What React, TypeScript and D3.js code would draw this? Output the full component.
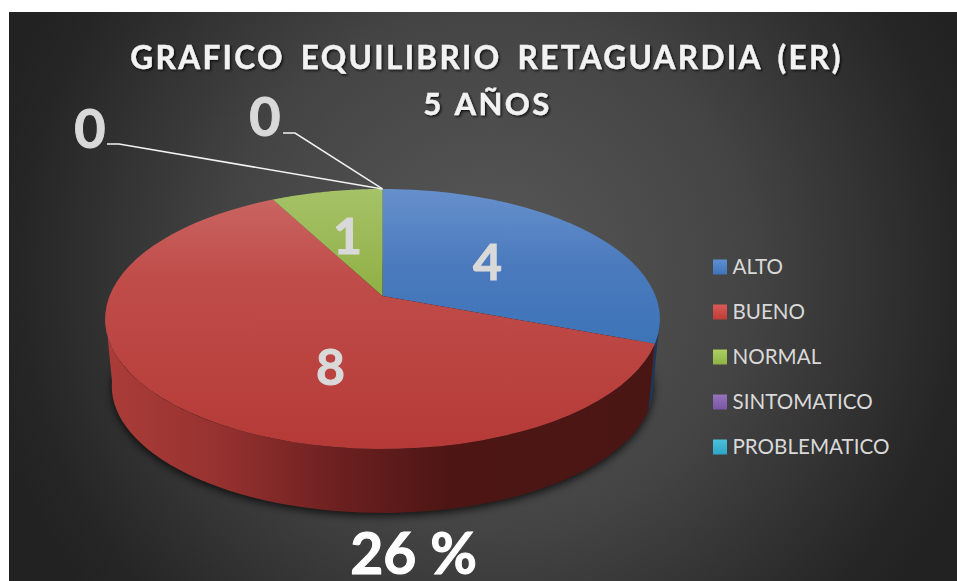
import React from "react";
import * as d3 from "d3";

const categories = ["ALTO", "BUENO", "NORMAL", "SINTOMATICO", "PROBLEMATICO"];
const values = [4, 8, 1, 0, 0];
const swatchTop = ["#5f8fd2", "#d85a56", "#acd062", "#9673bd", "#4cc0dc"];
const swatchBottom = ["#3f73b8", "#bf3c38", "#8fb245", "#7a55a5", "#2ea5c6"];
const titleLines = ["GRAFICO  EQUILIBRIO  RETAGUARDIA  (ER)", "5  AÑOS"];
const footer = "26 %";

const W = 957, H = 581;
const FONT = "Lato, Carlito, 'Open Sans', sans-serif";

// Perspective projection of the pie disc
const CX = 382.5, R = 273, Y0 = 296, A = 73.6, C = -0.1769;
const project = (angle: number, r = 1): [number, number] => {
  const u = Math.sin(angle) * r, v = -Math.cos(angle) * r;
  const d = 1 + C * v;
  return [CX + (R * u) / d, (A * v + Y0) / d];
};
// Bottom rim: slightly smaller, pushed down
const projectBase = (angle: number): [number, number] => {
  const [x, y] = project(angle);
  return [CX + (x - CX) * 0.976, 319 + (y - 319) * 0.976 + 67];
};
const sample = (a0: number, a1: number) =>
  d3.range(0, 61).map((i) => a0 + ((a1 - a0) * i) / 60);
const line = d3.line();

const pie = d3.pie<number>().sort(null).startAngle(0).endAngle(2 * Math.PI);
const arcs = pie(values);

const VIS0 = (100 * Math.PI) / 180, VIS1 = (262 * Math.PI) / 180;

const legendY = d3.scalePoint<string>().domain(categories).range([266.5, 446.5]);

export default function App() {
  const faces = arcs
    .filter((a) => a.value > 0)
    .map((a) => ({
      i: arcs.indexOf(a),
      d:
        line([[CX, Y0], ...sample(a.startAngle, a.endAngle).map((t) => project(t))]) + "Z",
    }));

  const walls = arcs
    .filter((a) => a.value > 0)
    .map((a) => {
      const s = Math.max(a.startAngle, VIS0), e = Math.min(a.endAngle, VIS1);
      if (e <= s) return null;
      const ts = sample(s, e);
      const pts = [...ts.map((t) => project(t)), ...ts.slice().reverse().map((t) => projectBase(t))];
      return { i: arcs.indexOf(a), d: line(pts as [number, number][]) + "Z" };
    })
    .filter(Boolean) as { i: number; d: string }[];

  const baseOutline = line(sample(0, 2 * Math.PI).map((t) => projectBase(t))) + "Z";

  const dataLabels = [
    { v: values[0], x: 487.5, y: 280, size: 50 },
    { v: values[1], x: 330.5, y: 385, size: 50 },
    { v: values[2], x: 347.5, y: 254, size: 50 },
    { v: values[3], x: 90, y: 148, size: 54 },
    { v: values[4], x: 265, y: 136, size: 54 },
  ];

  const apex = project(0);

  return (
    <svg
      width={W}
      height={H}
      viewBox={`0 0 ${W} ${H}`}
      style={{ position: "fixed", left: 0, top: 0, background: "#fff" }}
    >
      <defs>
        <radialGradient id="bg" gradientUnits="userSpaceOnUse" cx={490} cy={270} r={520}>
          <stop offset="0" stopColor="#585858" />
          <stop offset="0.5" stopColor="#444444" />
          <stop offset="0.9" stopColor="#262626" />
          <stop offset="1" stopColor="#222222" />
        </radialGradient>
        <linearGradient id="f0" gradientUnits="userSpaceOnUse" x1={0} y1={189} x2={0} y2={344}>
          <stop offset="0" stopColor="#6690cc" />
          <stop offset="0.5" stopColor="#4a7abd" />
          <stop offset="1" stopColor="#3d74b8" />
        </linearGradient>
        <linearGradient id="f1" gradientUnits="userSpaceOnUse" x1={0} y1={200} x2={0} y2={450}>
          <stop offset="0" stopColor="#c96461" />
          <stop offset="0.3" stopColor="#c04d4a" />
          <stop offset="1" stopColor="#b53a37" />
        </linearGradient>
        <linearGradient id="f2" gradientUnits="userSpaceOnUse" x1={0} y1={189} x2={0} y2={296}>
          <stop offset="0" stopColor="#a6c268" />
          <stop offset="1" stopColor="#8fb044" />
        </linearGradient>
        <linearGradient id="w1" gradientUnits="userSpaceOnUse" x1={108} y1={0} x2={655} y2={0}>
          <stop offset="0" stopColor="#ab3c38" />
          <stop offset="0.2" stopColor="#963230" />
          <stop offset="0.42" stopColor="#6c2020" />
          <stop offset="0.62" stopColor="#4d1614" />
          <stop offset="1" stopColor="#4a1614" />
        </linearGradient>
        <linearGradient id="w0" gradientUnits="userSpaceOnUse" x1={640} y1={0} x2={660} y2={0}>
          <stop offset="0" stopColor="#1f3a60" />
          <stop offset="1" stopColor="#1c3558" />
        </linearGradient>
        {swatchTop.map((c, i) => (
          <linearGradient key={i} id={`s${i}`} x1="0" y1="0" x2="0" y2="1">
            <stop offset="0" stopColor={c} />
            <stop offset="1" stopColor={swatchBottom[i]} />
          </linearGradient>
        ))}
        <filter id="blur" x="-10%" y="-10%" width="120%" height="120%">
          <feGaussianBlur stdDeviation="4" />
        </filter>
        <filter id="ts" x="-5%" y="-30%" width="110%" height="160%">
          <feDropShadow dx="1.5" dy="1.5" stdDeviation="1.2" floodColor="#000" floodOpacity="0.75" />
        </filter>
      </defs>

      <rect x={9} y={12} width={W - 9} height={H - 12} fill="url(#bg)" />

      <g
        filter="url(#ts)"
        fill="#f2f2f2"
        stroke="#f2f2f2"
        strokeWidth={0.4}
        fontFamily={FONT}
        fontWeight={700}
        textAnchor="middle"
      >
        <text x={486.5} y={69} fontSize={31.5} letterSpacing={2.35} wordSpacing={-2} style={{ whiteSpace: "pre" }}>
          {titleLines[0]}
        </text>
        <text x={487.5} y={115} fontSize={31} letterSpacing={2.4} wordSpacing={-4} style={{ whiteSpace: "pre" }}>
          {titleLines[1]}
        </text>
      </g>

      <path d={baseOutline} fill="#000" opacity={0.75} filter="url(#blur)" transform="translate(0,3)" />
      {walls.map((w) => (
        <path key={w.i} d={w.d} fill={w.i === 0 ? "url(#w0)" : "url(#w1)"} />
      ))}
      {faces.map((f) => (
        <path key={f.i} d={f.d} fill={`url(#f${f.i})`} />
      ))}

      <g fill="none" stroke="#f2f2f2" strokeWidth={1.5}>
        <path d={line([[107, 144], [119, 144], apex]) as string} />
        <path d={line([[283, 133], [295, 133], apex]) as string} />
      </g>

      <g
        fontFamily={FONT}
        fontWeight={700}
        fill="#d9d9d9"
        stroke="#d9d9d9"
        strokeWidth={1}
        textAnchor="middle"
      >
        {dataLabels.map((l, i) => (
          <text key={i} x={l.x} y={l.y} fontSize={l.size}>
            {l.v}
          </text>
        ))}
      </g>

      {categories.map((c, i) => (
        <g key={c}>
          <rect
            x={713}
            y={(legendY(c) as number) - 7}
            width={14}
            height={15}
            fill={`url(#s${i})`}
          />
          <text
            x={732.5}
            y={(legendY(c) as number) + 7.5}
            fontFamily={FONT}
            fontSize={20.6}
            fill="#d9d9d9"
          >
            {c}
          </text>
        </g>
      ))}

      <text
        x={413.5}
        y={574}
        textAnchor="middle"
        fontFamily={FONT}
        fontWeight={700}
        fontSize={57}
        fill="#ffffff"
        stroke="#ffffff"
        strokeWidth={1}
      >
        {footer}
      </text>
    </svg>
  );
}
